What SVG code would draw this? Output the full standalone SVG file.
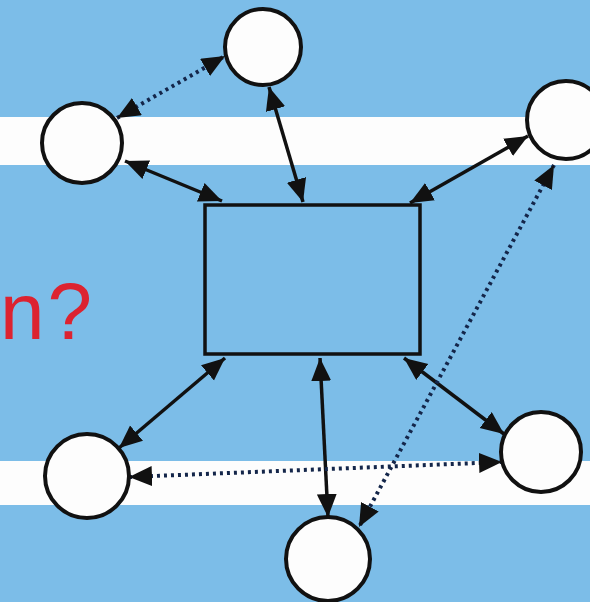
<svg xmlns="http://www.w3.org/2000/svg" width="590" height="602" viewBox="0 0 590 602">
<style>
.node{fill:#fdfdfd;stroke:#111;stroke-width:4}
.solid{stroke:#111;stroke-width:3.5;fill:none;marker-start:url(#ah);marker-end:url(#ah)}
.dot{stroke:#14264a;stroke-width:4;fill:none;stroke-dasharray:3 4;marker-start:url(#ah);marker-end:url(#ah)}
.band{fill:#fdfdfd}
</style>
<defs>
<marker id="ah" markerUnits="userSpaceOnUse" markerWidth="26" markerHeight="22" refX="23" refY="10" orient="auto-start-reverse">
<path d="M0,0 L23,10 L0,20 z" fill="#111"/>
</marker>
</defs>
<rect x="0" y="0" width="590" height="602" fill="#7cbde8"/>
<rect class="band" x="0" y="117" width="590" height="48"/>
<rect class="band" x="0" y="461" width="590" height="44"/>
<text x="0" y="339" font-family="Liberation Sans, Arial, sans-serif" font-size="80" letter-spacing="3" fill="#dc2330">n?</text>
<g id="connectors">
<line class="solid" x1="125" y1="161" x2="222" y2="201"/>
<line class="solid" x1="269" y1="87" x2="303" y2="202"/>
<line class="solid" x1="528" y1="136" x2="410" y2="203"/>
<line class="solid" x1="225" y1="358" x2="119" y2="448"/>
<line class="solid" x1="320" y1="358" x2="328" y2="517"/>
<line class="solid" x1="404" y1="358" x2="504" y2="434"/>
<line class="dot" x1="117" y1="118" x2="225" y2="56"/>
<line class="dot" x1="129" y1="477" x2="502" y2="462"/>
<line class="dot" x1="554" y1="165" x2="359" y2="527"/>
</g>
<g id="center"><rect x="205" y="205" width="215" height="149" fill="#7cbde8" stroke="#111" stroke-width="3.5"/></g>
<g id="n-top"><circle class="node" cx="263" cy="47" r="38"/></g>
<g id="n-left-upper"><circle class="node" cx="82" cy="143" r="40"/></g>
<g id="n-right-upper"><circle class="node" cx="566" cy="120" r="39"/></g>
<g id="n-left-lower"><circle class="node" cx="87" cy="476" r="42"/></g>
<g id="n-right-lower"><circle class="node" cx="541" cy="452" r="40"/></g>
<g id="n-bottom"><circle class="node" cx="328" cy="559" r="42"/></g>
</svg>
